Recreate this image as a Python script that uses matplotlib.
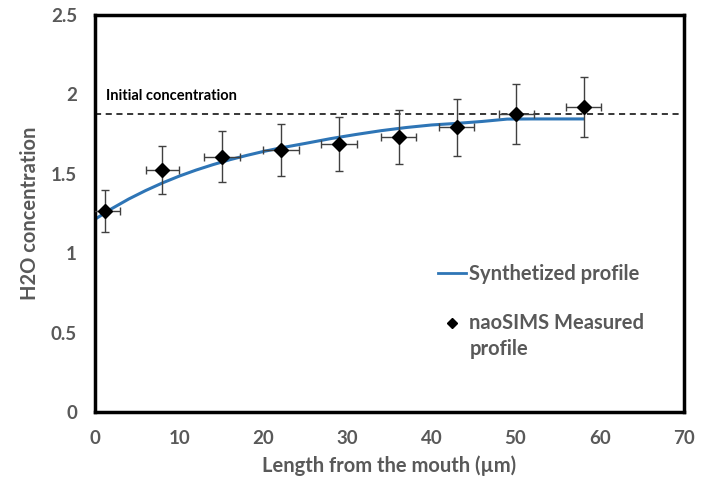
import matplotlib
matplotlib.use("Agg")
import numpy as np
import matplotlib.pyplot as plt
from matplotlib.lines import Line2D
from matplotlib.legend_handler import HandlerLine2D

plt.rcParams['font.family'] = ['Lato', 'DejaVu Sans']

# measured points (nanoSIMS)
meas_x = [1.2, 8.0, 15.1, 22.1, 29.0, 36.1, 43.0, 50.1, 58.1]
meas_y = [1.266, 1.525, 1.608, 1.652, 1.69, 1.73, 1.793, 1.877, 1.921]
meas_yerr = [0.13, 0.15, 0.16, 0.165, 0.17, 0.17, 0.18, 0.19, 0.19]
meas_xerr = [1.8, 2.0, 2.1, 2.1, 2.1, 2.1, 2.1, 2.1, 2.1]

# synthetized profile
syn_x = [0, 2, 4, 6, 8, 10, 12, 14, 16, 18, 20, 22, 25, 28, 31, 34, 37, 40, 43, 46, 49, 52, 55, 58]
syn_y = [1.215, 1.282, 1.342, 1.395, 1.443, 1.486, 1.524, 1.558, 1.589, 1.616, 1.641, 1.663,
         1.692, 1.722, 1.748, 1.772, 1.792, 1.808, 1.818, 1.83, 1.845, 1.846, 1.846, 1.846]

initial_conc = 1.88

grey = '#595959'


# put the legend marker next to the first line of a two-line label
class TopLineHandler(HandlerLine2D):
    def create_artists(self, legend, orig_handle, xdescent, ydescent, width, height, fontsize, trans):
        arts = super().create_artists(legend, orig_handle, xdescent, ydescent, width, height, fontsize, trans)
        for a in arts:
            a.set_ydata(np.asarray(a.get_ydata()) + fontsize * 0.7)
        return arts


fig = plt.figure(figsize=(7.1, 4.86), dpi=100)
ax = fig.add_axes([0.134, 0.152, 0.829, 0.817])

ax.axhline(initial_conc, color='black', lw=1.1, ls=(0, (4, 3)))
ax.text(1.3, 1.965, 'Initial concentration', fontsize=10.5, fontweight='bold', color='black')

ax.plot(syn_x, syn_y, color='#2e75b6', lw=2.2, zorder=2)
ax.errorbar(meas_x, meas_y, yerr=meas_yerr, xerr=meas_xerr, fmt='D', color='black',
            ms=7, ecolor='#404040', elinewidth=1, capsize=3, capthick=1, zorder=3)

ax.set_xlim(0, 70)
ax.set_ylim(0, 2.5)
ax.set_xticks(range(0, 71, 10))
ax.set_yticks([0, 0.5, 1, 1.5, 2, 2.5])
ax.set_yticklabels(['0', '0.5', '1', '1.5', '2', '2.5'])
ax.tick_params(length=0, pad=13, labelsize=13.5, labelcolor=grey)
for lab in ax.get_xticklabels() + ax.get_yticklabels():
    lab.set_fontweight('bold')

ax.set_xlabel('Length from the mouth (\u00b5m)', fontsize=14.5, fontweight='bold', color=grey, labelpad=6)
ax.set_ylabel('H2O concentration', fontsize=14.5, fontweight='bold', color=grey, labelpad=8)

for s in ax.spines.values():
    s.set_color('black')
    s.set_linewidth(2.5)

line_h = Line2D([0], [0], color='#2e75b6', lw=2)
mark_h = Line2D([0], [0], marker='D', color='black', ls='none', ms=5)
leg = ax.legend([line_h, mark_h], ['Synthetized profile', 'naoSIMS Measured\nprofile'],
                loc='upper left', bbox_to_anchor=(0.552, 0.418), frameon=False,
                prop={'weight': 'bold', 'size': 14.5}, labelcolor=grey,
                handlelength=1.4, handletextpad=0.15, labelspacing=1.45,
                handler_map={mark_h: TopLineHandler()})
leg.get_texts()[1].set_linespacing(1.35)

fig.savefig('out.png', dpi=100)
